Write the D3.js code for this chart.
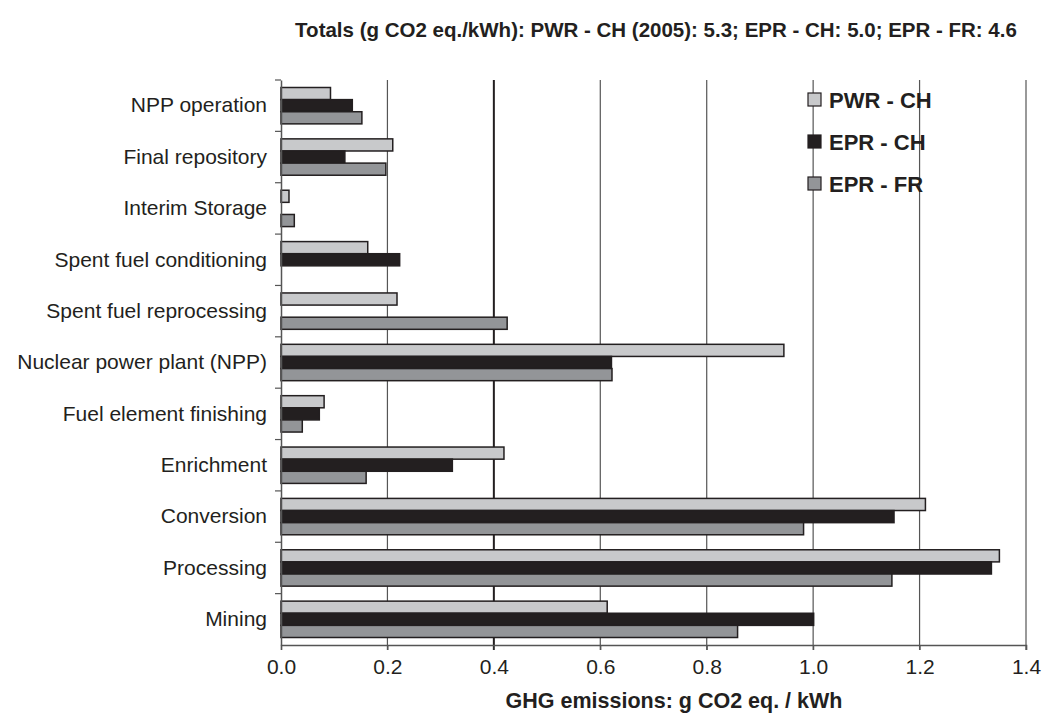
<!DOCTYPE html>
<html>
<head>
<meta charset="utf-8">
<script src="https://cdn.jsdelivr.net/npm/d3@7"></script>
<style>
body { margin: 0; background: #fff; }
svg { font-family: "Liberation Sans", Arial, sans-serif; }
</style>
</head>
<body>
<script>
(function(){

//data (g CO2 eq./kWh)
var categories = ["NPP operation", "Final repository", "Interim Storage", "Spent fuel conditioning",
    "Spent fuel reprocessing", "Nuclear power plant (NPP)", "Fuel element finishing", "Enrichment",
    "Conversion", "Processing", "Mining"];
var seriesNames = ["PWR - CH", "EPR - CH", "EPR - FR"];
var pwrCH = [0.093, 0.210, 0.015, 0.163, 0.218, 0.945, 0.081, 0.419, 1.211, 1.350, 0.613];
var eprCH = [0.134, 0.120, 0, 0.223, 0, 0.621, 0.072, 0.322, 1.152, 1.335, 1.001];
var eprFR = [0.152, 0.197, 0.025, 0, 0.425, 0.622, 0.040, 0.160, 0.982, 1.148, 0.858];
var xTicks = [0, 0.2, 0.4, 0.6, 0.8, 1.0, 1.2, 1.4];
var colors = ["#c8c9cb", "#231f20", "#939598"];

var width = 1046, height = 715;
var margin = {left: 281, right: 20, top: 80, bottom: 70};
var innerWidth = 1026 - margin.left,
    innerHeight = 645 - margin.top;

var svg = d3.select("body").append("svg")
    .attr("width", width)
    .attr("height", height);

var x = d3.scaleLinear().domain([0, 1.4]).range([margin.left, margin.left + innerWidth]);
var y = d3.scaleBand().domain(categories).range([margin.top, margin.top + innerHeight]).paddingInner(0).paddingOuter(0);
var ySeries = d3.scaleBand().domain(seriesNames).range([7.5, y.bandwidth() - 7.5]);

//vertical grid lines
svg.append("g").selectAll("line")
    .data(xTicks.slice(1))
    .enter().append("line")
    .attr("x1", function(d){ return x(d); })
    .attr("x2", function(d){ return x(d); })
    .attr("y1", margin.top)
    .attr("y2", margin.top + innerHeight + 5)
    .attr("stroke", function(d){ return d === 0.4 ? "#231f20" : "#555"; })
    .attr("stroke-width", function(d){ return d === 0.4 ? 2 : 1.2; });

//bars
var data = [pwrCH, eprCH, eprFR];
var groups = svg.selectAll(".series")
    .data(data)
    .enter().append("g")
    .attr("class", "series");

groups.each(function(vals, si){
    d3.select(this).selectAll("rect")
        .data(vals.map(function(v, i){ return {cat: categories[i], v: v}; })
            .filter(function(d){ return d.v > 0; }))
        .enter().append("rect")
        .attr("x", x(0))
        .attr("y", function(d){ return y(d.cat) + ySeries(seriesNames[si]); })
        .attr("width", function(d){ return x(d.v) - x(0); })
        .attr("height", ySeries.bandwidth())
        .attr("fill", colors[si])
        .attr("stroke", "#231f20")
        .attr("stroke-width", 1.5);
});

//bottom axis
var xAxis = d3.axisBottom(x)
    .tickValues(xTicks)
    .tickFormat(d3.format(".1f"))
    .tickSize(5)
    .tickPadding(9);
var gx = svg.append("g")
    .attr("transform", "translate(0," + (margin.top + innerHeight) + ")")
    .call(xAxis);
gx.select(".domain").attr("stroke", "#555").attr("stroke-width", 1.5);
gx.selectAll(".tick line").attr("stroke", "#555").attr("stroke-width", 1.2);
gx.selectAll("text").attr("font-size", 21).attr("fill", "#231f20");

//left axis
var yAxis = d3.axisLeft(y).tickSize(0).tickPadding(14);
var gy = svg.append("g")
    .attr("transform", "translate(" + margin.left + ",0)")
    .call(yAxis);
gy.select(".domain").attr("stroke", "#555").attr("stroke-width", 1.5);
gy.selectAll("text").attr("font-size", 21).attr("fill", "#231f20");

//small ticks between categories
svg.append("g").selectAll("line")
    .data(categories)
    .enter().append("line")
    .attr("x1", margin.left - 6)
    .attr("x2", margin.left)
    .attr("y1", function(d){ return y(d); })
    .attr("y2", function(d){ return y(d); })
    .attr("stroke", "#555")
    .attr("stroke-width", 1.2);

//title
svg.append("text")
    .attr("x", 656)
    .attr("y", 37)
    .attr("text-anchor", "middle")
    .attr("font-size", 20.5)
    .attr("font-weight", "bold")
    .attr("fill", "#231f20")
    .text("Totals (g CO2 eq./kWh): PWR - CH (2005): 5.3; EPR - CH: 5.0; EPR - FR: 4.6");

//x axis title
svg.append("text")
    .attr("x", 674)
    .attr("y", 708)
    .attr("text-anchor", "middle")
    .attr("font-size", 21.5)
    .attr("font-weight", "bold")
    .attr("fill", "#231f20")
    .text("GHG emissions: g CO2 eq. / kWh");

//legend
var legend = svg.append("g").selectAll("g")
    .data(seriesNames)
    .enter().append("g")
    .attr("transform", function(d, i){ return "translate(808," + (93 + i * 42) + ")"; });
legend.append("rect")
    .attr("width", 13)
    .attr("height", 13)
    .attr("fill", function(d, i){ return colors[i]; })
    .attr("stroke", "#231f20")
    .attr("stroke-width", 1.2);
legend.append("text")
    .attr("x", 21)
    .attr("y", 14.5)
    .attr("font-size", 22)
    .attr("font-weight", "bold")
    .attr("fill", "#231f20")
    .text(function(d){ return d; });

})();
</script>
</body>
</html>
